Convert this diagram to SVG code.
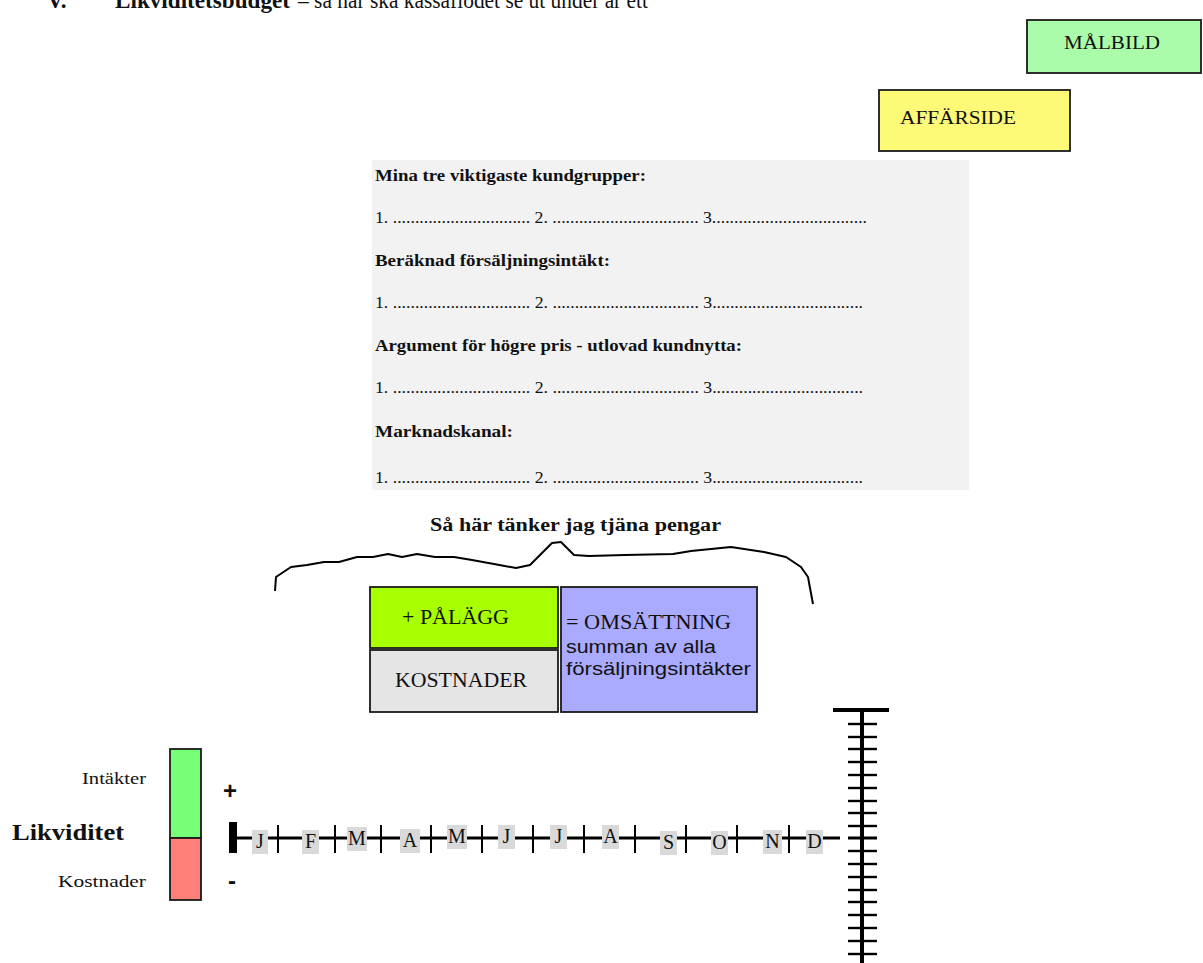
<svg xmlns="http://www.w3.org/2000/svg" width="1203" height="963" viewBox="0 0 1203 963">
<style>
.serif{font-family:"Liberation Serif","Times New Roman",serif;fill:#111}
.sans{font-family:"Liberation Sans",Arial,sans-serif;fill:#111}
.b{font-weight:bold}
.box{stroke:#1a1a1a;stroke-width:1.8}
.lbl{fill:#d9d9d9}
.tick{stroke:#000;stroke-width:2}
.ax{stroke:#000;stroke-width:2.4}
.form{font-size:16px}
.mon{font-size:20px;text-anchor:middle}
</style>
<rect width="1203" height="963" fill="#fff"/>

<g id="header">
<text class="serif b" x="47" y="8" font-size="23">V.</text>
<text class="serif b" x="115" y="8" font-size="23" textLength="175" lengthAdjust="spacingAndGlyphs">Likviditetsbudget</text>
<text class="serif" x="298" y="8" font-size="23" textLength="350" lengthAdjust="spacingAndGlyphs">– så här ska kassaflödet se ut under år ett</text>
</g>

<g id="malbild">
<rect class="box" x="1027" y="20" width="174" height="53" fill="#aafbaa"/>
<text class="serif" x="1064" y="49" font-size="19" textLength="96" lengthAdjust="spacingAndGlyphs">MÅLBILD</text>
</g>

<g id="affarside">
<rect class="box" x="879" y="90" width="191" height="61" fill="#fff978"/>
<text class="serif" x="900" y="124" font-size="19" textLength="116" lengthAdjust="spacingAndGlyphs">AFFÄRSIDE</text>
</g>

<g id="form">
<rect x="372" y="160" width="597" height="330" fill="#f2f2f2"/>
<text class="serif b form" x="375" y="181" textLength="271" lengthAdjust="spacingAndGlyphs">Mina tre viktigaste kundgrupper:</text>
<text class="serif form" x="375" y="223" textLength="492" lengthAdjust="spacingAndGlyphs">1. ............................... 2. ................................. 3...................................</text>
<text class="serif b form" x="375" y="266" textLength="235" lengthAdjust="spacingAndGlyphs">Beräknad försäljningsintäkt:</text>
<text class="serif form" x="375" y="308" textLength="488" lengthAdjust="spacingAndGlyphs">1. ............................... 2. ................................. 3..................................</text>
<text class="serif b form" x="375" y="351" textLength="367" lengthAdjust="spacingAndGlyphs">Argument för högre pris - utlovad kundnytta:</text>
<text class="serif form" x="375" y="393" textLength="488" lengthAdjust="spacingAndGlyphs">1. ............................... 2. ................................. 3..................................</text>
<text class="serif b form" x="375" y="437" textLength="138" lengthAdjust="spacingAndGlyphs">Marknadskanal:</text>
<text class="serif form" x="375" y="483" textLength="488" lengthAdjust="spacingAndGlyphs">1. ............................... 2. ................................. 3..................................</text>
</g>

<g id="money-title">
<text class="serif b" x="430" y="531" font-size="18" textLength="291" lengthAdjust="spacingAndGlyphs">Så här tänker jag tjäna pengar</text>
</g>

<g id="connectors">
<path d="M275,591 L276,577 L291,567 L307,565 L324,562 L339,562 L357,557 L373,557 L388,554 L402,557 L417,554 L435,557 L454,557 L472,560 L494,564 L516,568 L530,565 L552,543 L561,542 L574,555 L589,556 L625,555 L673,554 L691,551 L731,547 L764,552 L786,557 L801,567 L808,577 L810,588 L813,604" fill="none" stroke="#000" stroke-width="2" stroke-linejoin="round"/>
</g>

<g id="palagg">
<rect class="box" x="370" y="587" width="188" height="61" fill="#a8ff00"/>
<text class="serif" x="402" y="624" font-size="20" textLength="107" lengthAdjust="spacingAndGlyphs">+ PÅLÄGG</text>
</g>

<g id="kostnader">
<rect class="box" x="370" y="650" width="188" height="62" fill="#e5e5e5"/>
<text class="serif" x="395" y="687" font-size="20" textLength="132" lengthAdjust="spacingAndGlyphs">KOSTNADER</text>
</g>

<g id="omsattning">
<rect class="box" x="561" y="587" width="196" height="125" fill="#aaaaff"/>
<text class="serif" x="566" y="629" font-size="20" textLength="165" lengthAdjust="spacingAndGlyphs">= OMSÄTTNING</text>
<text class="sans" x="566" y="653" font-size="19" textLength="150" lengthAdjust="spacingAndGlyphs">summan av alla</text>
<text class="sans" x="566" y="675" font-size="19" textLength="185" lengthAdjust="spacingAndGlyphs">försäljningsintäkter</text>
</g>

<g id="liquidity-bar">
<rect class="box" x="170" y="749" width="31" height="89" fill="#77ff77"/>
<rect class="box" x="170" y="838" width="31" height="62" fill="#ff8078" stroke="#3a1a1a"/>
<text class="serif" x="146" y="784" font-size="17" text-anchor="end" textLength="64" lengthAdjust="spacingAndGlyphs">Intäkter</text>
<text class="serif b" x="12" y="840" font-size="23" textLength="112" lengthAdjust="spacingAndGlyphs">Likviditet</text>
<text class="serif" x="146" y="887" font-size="17" text-anchor="end" textLength="88" lengthAdjust="spacingAndGlyphs">Kostnader</text>
<text class="sans b" x="230" y="799" font-size="24" text-anchor="middle">+</text>
<text class="sans b" x="232" y="889" font-size="24" text-anchor="middle">-</text>
</g>

<g id="timeline">
<rect x="229" y="822" width="8" height="31" fill="#000"/>
<line x1="236" y1="838" x2="840" y2="838" stroke="#000" stroke-width="3"/>
<line class="tick" x1="278" y1="825" x2="278" y2="853"/>
<line class="tick" x1="335" y1="825" x2="335" y2="853"/>
<line class="tick" x1="381" y1="825" x2="381" y2="853"/>
<line class="tick" x1="431" y1="825" x2="431" y2="853"/>
<line class="tick" x1="482" y1="825" x2="482" y2="853"/>
<line class="tick" x1="533" y1="825" x2="533" y2="853"/>
<line class="tick" x1="584" y1="825" x2="584" y2="853"/>
<line class="tick" x1="635" y1="825" x2="635" y2="853"/>
<line class="tick" x1="686" y1="825" x2="686" y2="853"/>
<line class="tick" x1="737" y1="825" x2="737" y2="853"/>
<line class="tick" x1="789" y1="825" x2="789" y2="853"/>
<rect class="lbl" x="252" y="830" width="16" height="24"/><text class="serif mon" x="260" y="848">J</text>
<rect class="lbl" x="302" y="830" width="17" height="24"/><text class="serif mon" x="310.5" y="848">F</text>
<rect class="lbl" x="347" y="827" width="20" height="24"/><text class="serif mon" x="357" y="845">M</text>
<rect class="lbl" x="400" y="829" width="20" height="24"/><text class="serif mon" x="410" y="847">A</text>
<rect class="lbl" x="447" y="825" width="20" height="24"/><text class="serif mon" x="457" y="843">M</text>
<rect class="lbl" x="498" y="825" width="17" height="24"/><text class="serif mon" x="506.5" y="843">J</text>
<rect class="lbl" x="550" y="825" width="17" height="24"/><text class="serif mon" x="558.5" y="843">J</text>
<rect class="lbl" x="602" y="825" width="17" height="24"/><text class="serif mon" x="610.5" y="843">A</text>
<rect class="lbl" x="660" y="831" width="17" height="24"/><text class="serif mon" x="668.5" y="849">S</text>
<rect class="lbl" x="711" y="831" width="17" height="24"/><text class="serif mon" x="719.5" y="849">O</text>
<rect class="lbl" x="763" y="830" width="19" height="24"/><text class="serif mon" x="772.5" y="848">N</text>
<rect class="lbl" x="806" y="830" width="17" height="24"/><text class="serif mon" x="814.5" y="848">D</text>
</g>

<g id="axis">
<line x1="862" y1="710" x2="862" y2="963" stroke="#000" stroke-width="4"/>
<line x1="833" y1="710" x2="889" y2="710" stroke="#000" stroke-width="4"/>
<line class="ax" x1="848" y1="724" x2="877" y2="724"/>
<line class="ax" x1="848" y1="737" x2="877" y2="737"/>
<line class="ax" x1="848" y1="749" x2="877" y2="749"/>
<line class="ax" x1="848" y1="762" x2="877" y2="762"/>
<line class="ax" x1="848" y1="775" x2="877" y2="775"/>
<line class="ax" x1="848" y1="788" x2="877" y2="788"/>
<line class="ax" x1="848" y1="801" x2="877" y2="801"/>
<line class="ax" x1="848" y1="813" x2="877" y2="813"/>
<line class="ax" x1="848" y1="826" x2="877" y2="826"/>
<line x1="848" y1="838" x2="877" y2="838" stroke="#000" stroke-width="3"/>
<line class="ax" x1="848" y1="851" x2="877" y2="851"/>
<line class="ax" x1="848" y1="864" x2="877" y2="864"/>
<line class="ax" x1="848" y1="877" x2="877" y2="877"/>
<line class="ax" x1="848" y1="890" x2="877" y2="890"/>
<line class="ax" x1="848" y1="902" x2="877" y2="902"/>
<line class="ax" x1="848" y1="915" x2="877" y2="915"/>
<line class="ax" x1="848" y1="928" x2="877" y2="928"/>
<line class="ax" x1="848" y1="941" x2="877" y2="941"/>
<line class="ax" x1="848" y1="954" x2="877" y2="954"/>
</g>
</svg>
